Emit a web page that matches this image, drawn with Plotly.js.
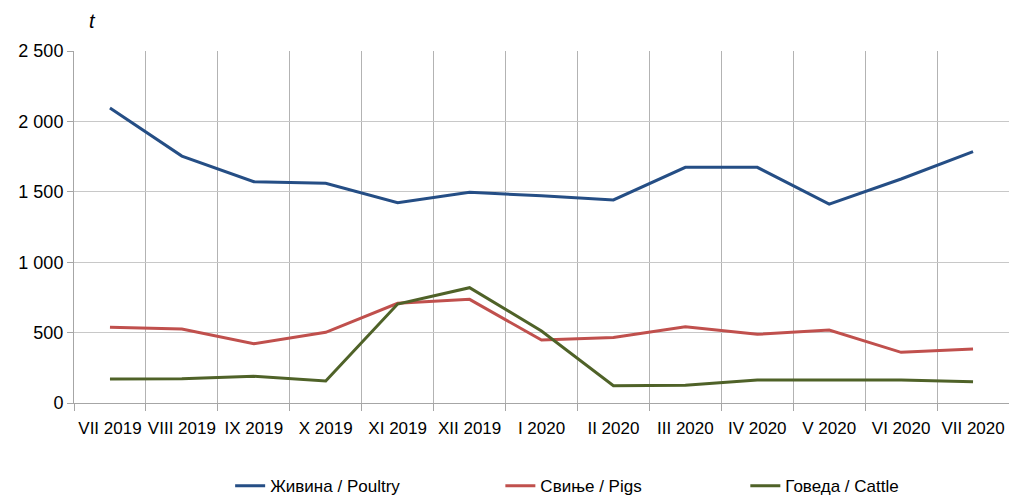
<!DOCTYPE html>
<html>
<head>
<meta charset="utf-8">
<script src="https://cdn.plot.ly/plotly-3.0.1.min.js"></script>
<style>html,body{margin:0;padding:0;background:#fff;}#chart{width:1009px;height:495px;}</style>
</head>
<body>
<div id="chart"></div>
<script>
const categories = ["VII 2019","VIII 2019","IX 2019","X 2019","XI 2019","XII 2019","I 2020","II 2020","III 2020","IV 2020","V 2020","VI 2020","VII 2020"];
const poultry = [2095,1754,1572,1560,1423,1496,1472,1442,1674,1674,1413,1591,1785];
const pigs    = [538,525,421,502,708,736,447,466,542,488,518,360,383];
const cattle  = [170,173,190,156,703,819,511,123,126,163,163,163,151];
const seriesNames = ["Живина / Poultry","Свиње / Pigs","Говеда / Cattle"];
const yTicks = [0,500,1000,1500,2000,2500];

const FONT = "'Liberation Sans', Arial, sans-serif";
const colors = ["#254E85","#C0504D","#4F6228"];
const data = [poultry, pigs, cattle].map((vals, i) => ({
  type: "scatter", mode: "lines", x: categories, y: vals, name: seriesNames[i],
  line: {color: colors[i], width: 3},
  legend: i === 0 ? "legend" : ("legend" + (i + 1))
}));

const legBase = {orientation: "h", yref: "container", yanchor: "middle", xanchor: "left", y: 0.018,
  font: {family: FONT, size: 17, color: "#000"}, bgcolor: "rgba(0,0,0,0)", itemwidth: 30};

const layout = {
  width: 1009, height: 495,
  margin: {l: 74, r: 0, t: 51, b: 92, autoexpand: false},
  paper_bgcolor: "#fff", plot_bgcolor: "#fff",
  separators: ", ",
  showlegend: true,
  font: {family: FONT, size: 17, color: "#000"},
  xaxis: {
    type: "category", range: [-0.5, 12.5], tickson: "boundaries", tickangle: 0,
    ticks: "outside", ticklen: 7, tickcolor: "#A6A6A6", ticklabelstandoff: 10,
    showgrid: true, gridcolor: "#B3B3B3", gridwidth: 1,
    showline: true, linecolor: "#A6A6A6", linewidth: 1,
    tickfont: {family: FONT, size: 17, color: "#000"},
    automargin: false, fixedrange: true
  },
  yaxis: {
    range: [0, 2500], tickvals: yTicks, separatethousands: true, tickformat: ",d",
    ticks: "outside", ticklen: 6, tickcolor: "#A6A6A6",
    showgrid: true, gridcolor: "#C8C8C8", gridwidth: 1,
    showline: true, linecolor: "#A6A6A6", linewidth: 1, zeroline: false,
    tickfont: {family: FONT, size: 18, color: "#000"},
    automargin: false, fixedrange: true
  },
  legend: Object.assign({}, legBase, {x: 0.167}),
  legend2: Object.assign({}, legBase, {x: 0.456}),
  legend3: Object.assign({}, legBase, {x: 0.718}),
  annotations: [{
    text: "<i>t</i>", xref: "paper", yref: "paper", x: 0.02, y: 1.085,
    xanchor: "center", yanchor: "middle", showarrow: false,
    font: {family: FONT, size: 20, color: "#000"}
  }]
};

Plotly.newPlot("chart", data, layout, {staticPlot: true, displayModeBar: false});
</script>
</body>
</html>
